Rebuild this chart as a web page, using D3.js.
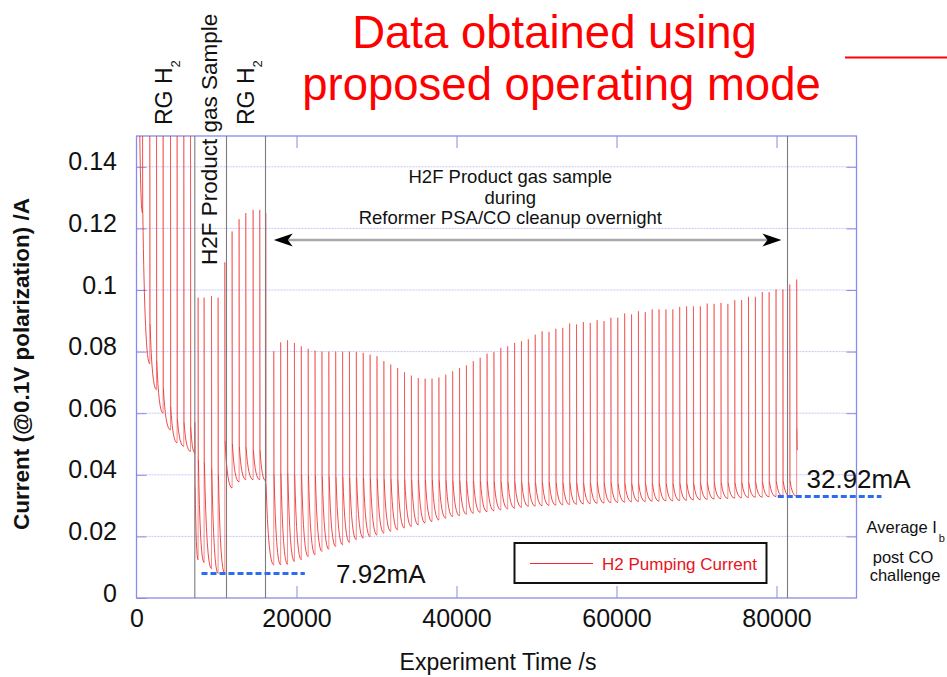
<!DOCTYPE html>
<html><head><meta charset="utf-8">
<script src="https://cdn.jsdelivr.net/npm/d3@7"></script>
<style>body{margin:0;background:#fff}svg{display:block;font-family:"Liberation Sans",Arial,Helvetica,sans-serif}</style>
</head><body><svg id="c" width="947" height="677"></svg>
<script>
// ---- data ----
// each pumping cycle: start time (s), spike peak (A), value just after the spike (A), value at end of cycle (A)
const cycleStart = [
  300, 750, 1660, 2500, 3325, 4250, 5075, 5910, 6750,
  7300, 7700, 8450, 9375, 10200,
  11040, 11950, 12825, 13660, 14575, 15410, 16160,
  17160, 18020, 18880, 19740, 20600, 21460, 22320, 23180, 24040, 24900,
  25760, 26620, 27480, 28340, 29200, 30060, 30920, 31780, 32640, 33500,
  34360, 35220, 36080, 36940, 37800, 38660, 39520, 40380, 41240, 42100,
  42960, 43820, 44680, 45540, 46400, 47260, 48120, 48980, 49840, 50700,
  51560, 52420, 53280, 54140, 55000, 55860, 56720, 57580, 58440, 59300,
  60160, 61020, 61880, 62740, 63600, 64460, 65320, 66180, 67040, 67900,
  68760, 69620, 70480, 71340, 72200, 73060, 73920, 74780, 75640, 76500,
  77360, 78220, 79080, 79940, 80800, 81660, 82520
];
const cyclePeak = [
  0.17, 0.17, 0.17, 0.17, 0.17, 0.17, 0.17, 0.17, 0.17,
  0.057, 0.0975, 0.0975, 0.098, 0.0975,
  0.109, 0.119, 0.123, 0.125, 0.126, 0.126, 0.125,
  0.0801, 0.0830, 0.0837, 0.0828, 0.0817, 0.0809, 0.0803, 0.0800, 0.0800, 0.0800,
  0.0800, 0.0800, 0.0799, 0.0796, 0.0790, 0.0785, 0.0769, 0.0758, 0.0747, 0.0733,
  0.0722, 0.0714, 0.0712, 0.0712, 0.0716, 0.0725, 0.0736, 0.0747, 0.0755, 0.0769,
  0.0780, 0.0793, 0.0798, 0.0812, 0.0817, 0.0828, 0.0834, 0.0840, 0.0855, 0.0866,
  0.0864, 0.0874, 0.0877, 0.0891, 0.0888, 0.0896, 0.0893, 0.0902, 0.0899, 0.0910,
  0.0910, 0.0924, 0.0921, 0.0931, 0.0928, 0.0937, 0.0937, 0.0937, 0.0937, 0.0945,
  0.0947, 0.0947, 0.0947, 0.0956, 0.0955, 0.0958, 0.0955, 0.0967, 0.0967, 0.0978,
  0.0978, 0.0993, 0.0993, 0.1002, 0.1002, 0.1018, 0.1034
];
const cycleHigh = [
  0.17, 0.125, 0.089, 0.077, 0.068, 0.062, 0.058, 0.057, 0.0555,
  0.036, 0.045, 0.044, 0.042, 0.040,
  0.051, 0.050, 0.049, 0.049, 0.048, 0.048, 0.037,
  0.0400, 0.0405, 0.0405, 0.0400, 0.0400, 0.0398, 0.0398, 0.0395, 0.0395, 0.0393,
  0.0393, 0.0390, 0.0390, 0.0390, 0.0388, 0.0388, 0.0386, 0.0386, 0.0385, 0.0385,
  0.0384, 0.0384, 0.0383, 0.0383, 0.0382, 0.0382, 0.0381, 0.0381, 0.0380, 0.0380,
  0.0379, 0.0379, 0.0378, 0.0378, 0.0377, 0.0377, 0.0376, 0.0376, 0.0375, 0.0375,
  0.0375, 0.0374, 0.0374, 0.0374, 0.0374, 0.0373, 0.0373, 0.0373, 0.0373, 0.0373,
  0.0372, 0.0372, 0.0372, 0.0372, 0.0372, 0.0372, 0.0372, 0.0372, 0.0372, 0.0372,
  0.0372, 0.0372, 0.0373, 0.0373, 0.0373, 0.0374, 0.0374, 0.0374, 0.0375, 0.0375,
  0.0376, 0.0376, 0.0377, 0.0378, 0.0379, 0.0380, 0.0550
];
const cycleLow = [
  0.125, 0.076, 0.0676, 0.060, 0.0546, 0.0504, 0.0492, 0.0476, 0.047,
  0.0124, 0.0115, 0.0095, 0.008, 0.0079,
  0.0357, 0.0377, 0.0384, 0.0384, 0.0384, 0.038, 0.0107,
  0.0107, 0.0109, 0.0118, 0.0124, 0.0134, 0.0140, 0.0151, 0.0158, 0.0167, 0.0172,
  0.0180, 0.0189, 0.0194, 0.0199, 0.0204, 0.0210, 0.0216, 0.0221, 0.0227, 0.0232,
  0.0237, 0.0243, 0.0248, 0.0253, 0.0259, 0.0264, 0.0267, 0.0272, 0.0275, 0.0278,
  0.0280, 0.0283, 0.0286, 0.0289, 0.0291, 0.0294, 0.0297, 0.0298, 0.0299, 0.0300,
  0.0301, 0.0302, 0.0303, 0.0304, 0.0305, 0.0306, 0.0307, 0.0308, 0.0309, 0.0310,
  0.0311, 0.0312, 0.0313, 0.0313, 0.0314, 0.0314, 0.0315, 0.0315, 0.0316, 0.0317,
  0.0318, 0.0319, 0.0320, 0.0321, 0.0322, 0.0323, 0.0324, 0.0325, 0.0326, 0.0327,
  0.0327, 0.0328, 0.0329, 0.0329, 0.0330, 0.0330, 0.048
];
const dataEnd = 82600;

const xTicks = [0, 20000, 40000, 60000, 80000];
const xTickLabels = ["0", "20000", "40000", "60000", "80000"];
const yTicks = [0, 0.02, 0.04, 0.06, 0.08, 0.1, 0.12, 0.14];
const yTickLabels = ["0", "0.02", "0.04", "0.06", "0.08", "0.1", "0.12", "0.14"];
const phaseBoundaries = [7290, 11250, 16125, 81375];
const averageLevels = [0.00792, 0.03292];
const averageLabels = ["7.92mA", "32.92mA"];
const seriesName = "H2 Pumping Current";

// ---- drawing ----
const svg = d3.select("#c");
const L = 136.5, R = 856.5, T = 136, B = 598;
const x = d3.scaleLinear().domain([0, 90000]).range([L, R]);
const y = d3.scaleLinear().domain([0, 0.15]).range([B, T]);
const blue = "#8a8ae8", grid = "#c6c6f6";
const FONT = '"Liberation Sans",Arial,Helvetica,sans-serif';

svg.append("rect").attr("width", 947).attr("height", 677).attr("fill", "#fff");

// gridlines
svg.append("g").selectAll("line").data(yTicks.filter(d => d > 0)).join("line")
  .attr("x1", L).attr("x2", R).attr("y1", d => y(d)).attr("y2", d => y(d))
  .attr("stroke", grid).attr("stroke-width", 1).attr("stroke-dasharray", "2,1");

// axes
function styleAxis(g) {
  g.select(".domain").remove();
  g.selectAll(".tick line").attr("stroke", blue).attr("stroke-width", 1);
  g.selectAll("text").attr("font-family", FONT).attr("fill", "#111");
}
svg.append("g").attr("transform", `translate(${L},0)`)
  .call(d3.axisLeft(y).tickValues(yTicks).tickFormat((d, i) => yTickLabels[i]).tickSize(-10).tickPadding(19.5))
  .call(styleAxis)
  .call(g => g.selectAll("text").attr("font-size", 25).attr("dy", "0.12em"));
svg.append("g").attr("transform", `translate(${R},0)`)
  .call(d3.axisRight(y).tickValues(yTicks.filter(d => d > 0)).tickFormat("").tickSize(-10))
  .call(styleAxis);
svg.append("g").attr("transform", `translate(0,${B})`)
  .call(d3.axisBottom(x).tickValues(xTicks).tickFormat((d, i) => xTickLabels[i]).tickSize(-12).tickPadding(11))
  .call(styleAxis)
  .call(g => g.selectAll("text").attr("font-size", 25))
  .call(g => g.selectAll(".tick line").filter(d => d === 0).remove());
svg.append("g").attr("transform", `translate(0,${T})`)
  .call(d3.axisTop(x).tickValues(xTicks.filter(d => d > 0)).tickFormat("").tickSize(-12))
  .call(styleAxis);

// frame
svg.append("rect").attr("x", L).attr("y", T).attr("width", R - L).attr("height", B - T)
  .attr("fill", "none").attr("stroke", blue).attr("stroke-width", 1.3);

// clip
svg.append("clipPath").attr("id", "clip").append("rect")
  .attr("x", L).attr("y", T).attr("width", R - L).attr("height", B - T);

// data paths: spikes (thin vertical strokes) and decays
const spikes = d3.path(), decays = d3.path();
cycleStart.forEach((t, i) => {
  const tEnd = i < cycleStart.length - 1 ? cycleStart[i + 1] : dataEnd;
  const prev = i === 0 ? cycleHigh[0] : cycleLow[i - 1];
  const t1 = t + 40;
  spikes.moveTo(x(t), y(prev));
  spikes.lineTo(x(t), y(cyclePeak[i]));
  spikes.lineTo(x(t1), y(cycleHigh[i]));
  decays.moveTo(x(t1), y(cycleHigh[i]));
  decays.quadraticCurveTo(x(t1 + 0.3 * (tEnd - t1)), y(cycleLow[i]), x(tEnd), y(cycleLow[i]));
});
const dataG = svg.append("g").attr("clip-path", "url(#clip)");
dataG.append("path").attr("d", spikes.toString())
  .attr("fill", "none").attr("stroke", "#f03030").attr("stroke-width", 1)
  .attr("stroke-linejoin", "round").attr("stroke-opacity", 0.55);
dataG.append("path").attr("d", decays.toString())
  .attr("fill", "none").attr("stroke", "#e82020").attr("stroke-width", 0.9)
  .attr("stroke-opacity", 0.9);

// phase boundaries
svg.append("g").selectAll("line").data(phaseBoundaries).join("line")
  .attr("x1", d => x(d)).attr("x2", d => x(d)).attr("y1", T).attr("y2", B)
  .attr("stroke", "#7c7c7c").attr("stroke-width", 1.1);

// average dashed lines
const avgSpans = [[8125, 21040], [80160, 93120]];
svg.append("g").selectAll("line").data(averageLevels).join("line")
  .attr("x1", (d, i) => x(avgSpans[i][0])).attr("x2", (d, i) => x(avgSpans[i][1]))
  .attr("y1", d => y(d)).attr("y2", d => y(d))
  .attr("stroke", "#2d6cf2").attr("stroke-width", 3).attr("stroke-dasharray", "6,3");
const avgLabelPos = [[336, 583], [806.5, 488]];
svg.append("g").selectAll("text").data(averageLabels).join("text")
  .attr("x", (d, i) => avgLabelPos[i][0]).attr("y", (d, i) => avgLabelPos[i][1])
  .attr("font-size", 26).attr("fill", "#111").text(d => d);

// arrow
const ay = y(0.1162), ax1 = x(17160), ax2 = x(80620);
svg.append("line").attr("x1", ax1 + 8).attr("x2", ax2 - 8).attr("y1", ay).attr("y2", ay)
  .attr("stroke", "#a8a8a8").attr("stroke-width", 2.5);
svg.append("path").attr("d", `M${ax1},${ay} L${ax1 + 19},${ay - 6.5} L${ax1 + 14},${ay} L${ax1 + 19},${ay + 6.5} Z`).attr("fill", "#000");
svg.append("path").attr("d", `M${ax2},${ay} L${ax2 - 19},${ay - 6.5} L${ax2 - 14},${ay} L${ax2 - 19},${ay + 6.5} Z`).attr("fill", "#000");

// annotation text
const annX = x(46725);
[["H2F Product gas sample", 183], ["during", 203.5], ["Reformer PSA/CO cleanup overnight", 224]].forEach(([s, yy]) => {
  svg.append("text").attr("x", annX).attr("y", yy).attr("text-anchor", "middle")
    .attr("font-size", 18.5).attr("fill", "#111").text(s);
});

// rotated phase labels
function rgLabel(bx) {
  const t = svg.append("text").attr("transform", `translate(${bx},125) rotate(-90)`)
    .attr("font-size", 23).attr("fill", "#111");
  t.append("tspan").text("RG H");
  t.append("tspan").attr("font-size", 13).attr("dy", 8).text("2");
}
rgLabel(172);
rgLabel(254);
svg.append("text").attr("transform", "translate(216.5,265) rotate(-90)")
  .attr("font-size", 22.5).attr("fill", "#111").text("H2F Product gas Sample");

// legend
svg.append("rect").attr("x", 514.5).attr("y", 543).attr("width", 252).attr("height", 40)
  .attr("fill", "#fff").attr("stroke", "#111").attr("stroke-width", 2);
svg.append("line").attr("x1", 530).attr("x2", 593).attr("y1", 563.5).attr("y2", 563.5)
  .attr("stroke", "#f03030").attr("stroke-width", 1);
svg.append("text").attr("x", 602).attr("y", 569.5).attr("font-size", 17).attr("fill", "#e8141c").text(seriesName);

// right side note
const note = svg.append("text").attr("x", 866.5).attr("y", 532.5).attr("font-size", 16.5).attr("fill", "#111");
note.append("tspan").text("Average I");
note.append("tspan").attr("font-size", 11).attr("dy", 9).attr("dx", 2).text("b");
svg.append("text").attr("x", 903).attr("y", 563).attr("text-anchor", "middle").attr("font-size", 16.5).attr("fill", "#111").text("post CO");
svg.append("text").attr("x", 905).attr("y", 581).attr("text-anchor", "middle").attr("font-size", 16.5).attr("fill", "#111").text("challenge");

// axis titles
svg.append("text").attr("x", 498).attr("y", 670).attr("text-anchor", "middle")
  .attr("font-size", 23).attr("fill", "#111").text("Experiment Time /s");
svg.append("text").attr("transform", "translate(29,364) rotate(-90)").attr("text-anchor", "middle")
  .attr("font-size", 22.5).attr("font-weight", "bold").attr("fill", "#111").text("Current (@0.1V polarization) /A");

// title
svg.append("text").attr("x", 554.5).attr("y", 48).attr("text-anchor", "middle")
  .attr("font-size", 45.5).attr("fill", "#ff0000").text("Data obtained using");
svg.append("text").attr("x", 561.5).attr("y", 100).attr("text-anchor", "middle")
  .attr("font-size", 45.5).attr("fill", "#ff0000").text("proposed operating mode");
svg.append("line").attr("x1", 845).attr("x2", 947).attr("y1", 57.5).attr("y2", 57.5)
  .attr("stroke", "#ff0000").attr("stroke-width", 2);
</script></body></html>
